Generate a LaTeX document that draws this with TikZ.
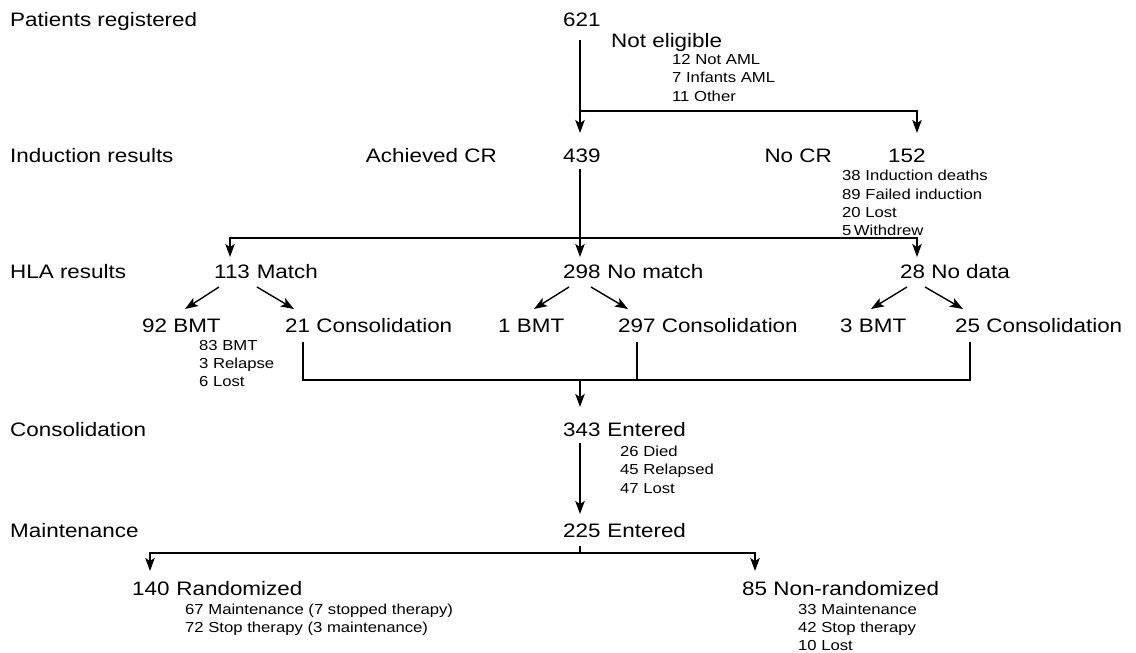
\documentclass[tikz,border=0pt]{standalone}
\usepackage{fontspec}
\setmainfont{Liberation Sans}[FakeStretch=1.15]
\usetikzlibrary{arrows.meta}
\tikzset{
  big/.style={font=\fontsize{19.5}{22}\selectfont, anchor=base west, inner sep=0pt},
  bige/.style={big, anchor=base east},
  small/.style={font=\fontsize{14.5}{17}\selectfont, anchor=base west, inner sep=0pt},
  conn/.style={line width=1.4pt},
  arr/.style={conn, -{Stealth[length=13pt,width=9.5pt,inset=3pt]}},
}
\begin{document}
\begin{tikzpicture}[x=1pt,y=-1pt]
\useasboundingbox (0,0) rectangle (1136,653);
% row labels
\node[big] (lPR) at (10,26) {Patients registered};
\node[big] (lIR) at (10,162) {Induction results};
\node[big] (lHLA) at (10,278) {HLA results};
\node[big] (lCons) at (10,436) {Consolidation};
\node[big] (lMaint) at (10,537) {Maintenance};
% row 1
\node[big] (n621) at (563,26) {621};
\node[big] (nNE) at (611,47) {Not eligible};
\node[small] (ne1) at (672,64) {12 Not AML};
\node[small] (ne2) at (672,82) {7 Infants AML};
\node[small] (ne3) at (672,101) {11 Other};
% row 2
\node[bige] (nACR) at (497,162) {Achieved CR};
\node[big] (n439) at (563,162) {439};
\node[bige] (nNCR) at (832,162) {No CR};
\node[big] (n152) at (888,162) {152};
\node[small] (nc1) at (842,180) {38 Induction deaths};
\node[small] (nc2) at (842,199) {89 Failed induction};
\node[small] (nc3) at (842,217) {20 Lost};
\node[small] (nc4) at (842,235) {5\,Withdrew};
% row 3
\node[big] (n113) at (214,278) {113\hspace{0.35em}Match};
\node[big] (n298) at (563,278) {298\hspace{0.35em}No match};
\node[big] (n28) at (900,278) {28 No data};
% row 4
\node[big] (n92) at (142,332) {92 BMT};
\node[big] (n21) at (285,332) {21 Consolidation};
\node[big] (n1) at (498,332) {1 BMT};
\node[big] (n297) at (618,332) {297 Consolidation};
\node[big] (n3) at (840,332) {3 BMT};
\node[big] (n25) at (955,332) {25 Consolidation};
\node[small] (b1) at (199,350) {83 BMT};
\node[small] (b2) at (199,368) {3 Relapse};
\node[small] (b3) at (199,386) {6 Lost};
% row 5
\node[big] (n343) at (563,436) {343\hspace{0.35em}Entered};
\node[small] (e1) at (620,456) {26 Died};
\node[small] (e2) at (620,474) {45 Relapsed};
\node[small] (e3) at (620,493) {47 Lost};
% row 6
\node[big] (n225) at (563,537) {225\hspace{0.35em}Entered};
% row 7
\node[big] (n140) at (132,595) {140\hspace{0.35em}Randomized};
\node[small] (r1) at (185,614) {67 Maintenance (7 stopped therapy)};
\node[small] (r2) at (185,632) {72 Stop therapy (3 maintenance)};
\node[big] (n85) at (742,595) {85 Non-randomized};
\node[small] (s1) at (798,614) {33 Maintenance};
\node[small] (s2) at (798,632) {42 Stop therapy};
\node[small] (s3) at (798,650) {10 Lost};

% connector points
\coordinate (a621) at (580,40);
\coordinate (t439) at (580,133);
\coordinate (bNE) at (580,111);
\coordinate (t152) at (917,133);
\coordinate (a439) at (580,169);
\coordinate (t298) at (580,257);
\coordinate (bHLA) at (580,238);
\coordinate (t113) at (230,257);
\coordinate (t28) at (917,257);
% diagonal arrows
\coordinate (d113a) at (219,287); \coordinate (t92) at (185,309);
\coordinate (d113b) at (257,287); \coordinate (t21) at (294,309);
\coordinate (d298a) at (569,287); \coordinate (t1) at (534,309);
\coordinate (d298b) at (591,287); \coordinate (t297) at (628,309);
\coordinate (d28a) at (907,287); \coordinate (t3) at (871,309);
\coordinate (d28b) at (925,287); \coordinate (t25) at (963,309);
% merge
\coordinate (m21) at (303,342); \coordinate (m297) at (637,342); \coordinate (m25) at (970,342);
\coordinate (mJ) at (580,380);
\coordinate (t343) at (580,407);
\coordinate (a343) at (580,443);
\coordinate (t225) at (580,514);
\coordinate (a225) at (580,546);
\coordinate (bM) at (580,553);
\coordinate (t140) at (150,571);
\coordinate (t85) at (755,571);

\draw[arr] (a621) -- (t439);
\draw[arr] (bNE) -| (t152);
\draw[arr] (a439) -- (t298);
\draw[arr] (bHLA) -| (t113);
\draw[arr] (bHLA) -| (t28);
\draw[arr] (d113a) -- (t92);
\draw[arr] (d113b) -- (t21);
\draw[arr] (d298a) -- (t1);
\draw[arr] (d298b) -- (t297);
\draw[arr] (d28a) -- (t3);
\draw[arr] (d28b) -- (t25);
\draw[conn] (m21) |- (mJ);
\draw[conn] (m25) |- (mJ);
\draw[conn] (m297) -- (m297 |- mJ);
\draw[arr] (mJ) -- (t343);
\draw[arr] (a343) -- (t225);
\draw[conn] (a225) -- (bM);
\draw[arr] (bM) -| (t140);
\draw[arr] (bM) -| (t85);
\end{tikzpicture}
\end{document}
